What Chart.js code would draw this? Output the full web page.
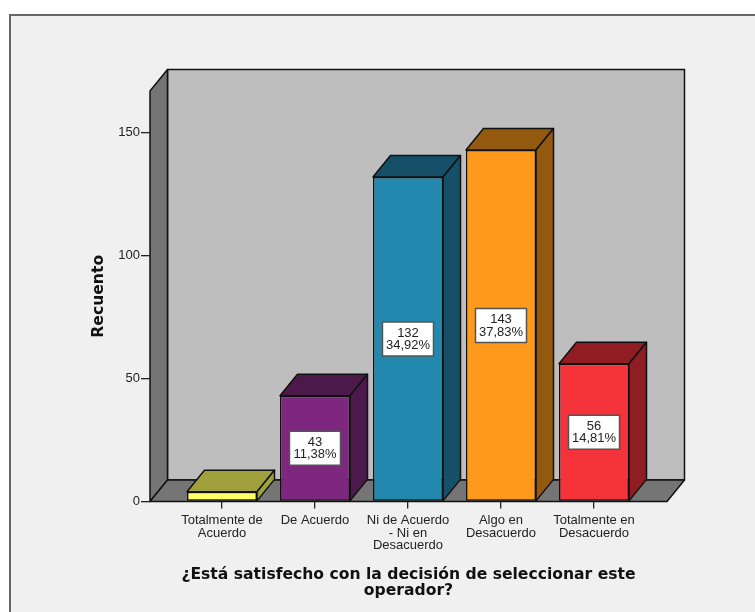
<!DOCTYPE html>
<html>
<head>
<meta charset="utf-8">
<script src="https://cdn.jsdelivr.net/npm/chart.js@4"></script>
<style>
  html, body { margin: 0; background: #fff; overflow: hidden; }
  #panel { position: absolute; left: 9px; top: 14px; right: 0; bottom: 0; background: #f0f0f0;
           border-left: 2px solid #666; border-top: 2px solid #666; }
  #myChart { position: absolute; left: 0; top: 0; }
</style>
</head>
<body>
<div id="panel"></div>
<canvas id="myChart" width="755" height="612"></canvas>
<script>
const categories = [
  ['Totalmente de', 'Acuerdo'],
  ['De Acuerdo'],
  ['Ni de Acuerdo', '- Ni en', 'Desacuerdo'],
  ['Algo en', 'Desacuerdo'],
  ['Totalmente en', 'Desacuerdo']
];
const positions = [1, 2, 3, 4, 5];
const counts = [4, 43, 132, 143, 56];
const percents = [null, '11,38%', '34,92%', '37,83%', '14,81%'];
const yTicks = [0, 50, 100, 150];
const frontColors = ['#ffff66', '#7e277e', '#2388ae', '#ff991c', '#f5333b'];
const darkColors = ['#a0a03c', '#4b1a4b', '#155068', '#93590f', '#8f1d21'];

const xTitle = ['¿Está satisfecho con la decisión de seleccionar este', 'operador?'];
const yTitle = 'Recuento';

// depth of the fake 3d box, in pixels
const depthX = 17.5;
const depthY = 21.5;
const lineColor = '#111';

function poly(c, pts, fill) {
  c.beginPath();
  pts.forEach((p, i) => i ? c.lineTo(p[0], p[1]) : c.moveTo(p[0], p[1]));
  c.closePath();
  c.fillStyle = fill;
  c.fill();
  c.stroke();
}

// back wall, side wall and floor
const walls = {
  id: 'walls',
  beforeDraw(chart) {
    const c = chart.ctx, a = chart.chartArea;
    c.save();
    c.strokeStyle = lineColor;
    c.lineWidth = 1.5;
    c.lineJoin = 'round';
    poly(c, [[a.left + depthX, a.top - depthY], [a.right + depthX, a.top - depthY],
             [a.right + depthX, a.bottom - depthY], [a.left + depthX, a.bottom - depthY]], '#bebebe');
    poly(c, [[a.left, a.top], [a.left + depthX, a.top - depthY],
             [a.left + depthX, a.bottom - depthY], [a.left, a.bottom]], '#757575');
    poly(c, [[a.left, a.bottom], [a.left + depthX, a.bottom - depthY],
             [a.right + depthX, a.bottom - depthY], [a.right, a.bottom]], '#757575');
    c.restore();
  }
};

// top and side of every bar, then the white value boxes
const bars3d = {
  id: 'bars3d',
  afterDatasetsDraw(chart) {
    const c = chart.ctx;
    c.save();
    c.strokeStyle = lineColor;
    c.lineWidth = 1.5;
    c.lineJoin = 'round';
    chart.getDatasetMeta(0).data.forEach((bar, i) => {
      const l = bar.x - bar.width / 2, r = bar.x + bar.width / 2;
      poly(c, [[l, bar.y], [l + depthX, bar.y - depthY], [r + depthX, bar.y - depthY], [r, bar.y]], darkColors[i]);
      poly(c, [[r, bar.y], [r + depthX, bar.y - depthY], [r + depthX, bar.base - depthY], [r, bar.base]], darkColors[i]);
      if (!percents[i]) return;
      const my = (bar.y + bar.base) / 2;
      c.fillStyle = '#fff';
      c.fillRect(bar.x - 25.5, my - 17, 51, 34);
      c.lineWidth = 1.5;
      c.strokeStyle = '#555';
      c.strokeRect(bar.x - 25.5, my - 17, 51, 34);
      c.lineWidth = 1.5;
      c.strokeStyle = lineColor;
      c.fillStyle = '#222';
      c.font = '13px "Liberation Sans"';
      c.textAlign = 'center';
      c.textBaseline = 'middle';
      c.fillText(counts[i], bar.x, my - 6);
      c.fillText(percents[i], bar.x, my + 6.5);
    });
    c.restore();
  }
};

const ctx = document.getElementById('myChart');
new Chart(ctx, {
  type: 'bar',
  data: {
    datasets: [{
      data: counts.map((v, i) => ({ x: positions[i], y: v })),
      backgroundColor: frontColors,
      borderColor: lineColor,
      borderWidth: 1.5,
      borderSkipped: false,
      barPercentage: 0.753,
      categoryPercentage: 1
    }]
  },
  plugins: [walls, bars3d],
  options: {
    responsive: false,
    animation: false,
    layout: { padding: { top: 91, right: 88, left: 0, bottom: 0 } },
    plugins: { legend: { display: false }, tooltip: { enabled: false } },
    scales: {
      x: {
        type: 'linear',
        offset: false,
        min: 0.226,
        max: 5.785,
        afterBuildTicks: axis => { axis.ticks = positions.map(p => ({ value: p })); },
        afterFit: axis => { axis.height = 110.5; },
        border: { display: false },
        grid: { offset: false, drawOnChartArea: false, drawTicks: true, tickLength: 7, color: '#222', lineWidth: 1.3 },
        ticks: {
          autoSkip: false,
          maxRotation: 0,
          padding: 6,
          color: '#222',
          font: { family: '"Liberation Sans"', size: 13, lineHeight: 0.96 },
          callback: v => categories[v - 1]
        },
        title: {
          display: true,
          text: xTitle,
          color: '#111',
          font: { family: '"DejaVu Sans"', size: 15.6, weight: 'bold', lineHeight: 1.02 },
          padding: { top: 0, bottom: 13 }
        }
      },
      y: {
        min: 0,
        max: 167,
        afterBuildTicks: axis => { axis.ticks = yTicks.map(v => ({ value: v })); },
        afterFit: axis => { axis.width = 150; },
        border: { display: false },
        grid: { drawOnChartArea: false, drawTicks: true, tickLength: 9, color: '#222', lineWidth: 1.3 },
        ticks: {
          padding: 1,
          color: '#222',
          font: { family: '"Liberation Sans"', size: 13 }
        },
        title: {
          display: true,
          text: yTitle,
          color: '#111',
          font: { family: '"DejaVu Sans"', size: 15.6, weight: 'bold', lineHeight: 1.02 },
          padding: { top: 91, bottom: 0 }
        }
      }
    }
  }
});
</script>
</body>
</html>
